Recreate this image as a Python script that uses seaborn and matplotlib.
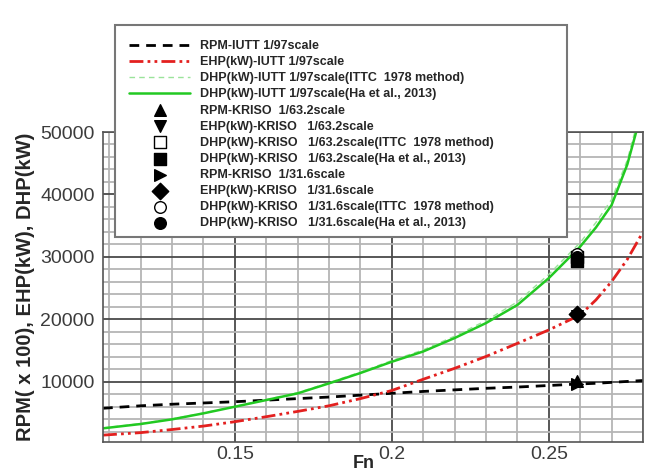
import numpy as np
import pandas as pd
import matplotlib
matplotlib.use("Agg")
import matplotlib.pyplot as plt
from matplotlib.patches import Rectangle
from matplotlib.ticker import MultipleLocator
import seaborn as sns

# ---------------- data ----------------
fn = [0.108, 0.12, 0.13, 0.14, 0.15, 0.16, 0.17, 0.18, 0.19, 0.20,
      0.21, 0.22, 0.23, 0.24, 0.25, 0.26, 0.265, 0.27, 0.275, 0.28]
rpm_iutt = [5750, 6150, 6400, 6600, 6800, 7050, 7300, 7550, 7850, 8150,
            8450, 8700, 8950, 9150, 9400, 9650, 9750, 9900, 10050, 10200]
ehp_iutt = [1450, 1850, 2350, 2900, 3600, 4400, 5250, 6150, 7300, 8600,
            10400, 12150, 14050, 16150, 18300, 20700, 23100, 26050, 29600, 34000]
dhp_ittc_iutt = [2600, 3300, 4050, 5000, 6050, 7150, 8250, 9850, 11550, 13400,
                 15100, 17300, 19800, 22800, 27200, 32300, 35500, 39200, 45500, 55000]
dhp_ha_iutt = [2540, 3230, 3980, 4940, 6000, 7070, 8140, 9740, 11400, 13200,
               14850, 17000, 19400, 22300, 26600, 31650, 34700, 38300, 44800, 54000]

fn_kriso = [0.259]
rpm_632 = [10100]
ehp_632 = [20500]
dhp_ittc_632 = [30000]
dhp_ha_632 = [29300]
rpm_316 = [9700]
ehp_316 = [20800]
dhp_ittc_316 = [30500]
dhp_ha_316 = [30000]

line_labels = ["RPM-IUTT 1/97scale",
               "EHP(kW)-IUTT 1/97scale",
               "DHP(kW)-IUTT 1/97scale(ITTC  1978 method)",
               "DHP(kW)-IUTT 1/97scale(Ha et al., 2013)"]
marker_labels = ["RPM-KRISO  1/63.2scale",
                 "EHP(kW)-KRISO   1/63.2scale",
                 "DHP(kW)-KRISO   1/63.2scale(ITTC  1978 method)",
                 "DHP(kW)-KRISO   1/63.2scale(Ha et al., 2013)",
                 "RPM-KRISO  1/31.6scale",
                 "EHP(kW)-KRISO   1/31.6scale",
                 "DHP(kW)-KRISO   1/31.6scale(ITTC  1978 method)",
                 "DHP(kW)-KRISO   1/31.6scale(Ha et al., 2013)"]
xticks = [0.15, 0.2, 0.25]
xtick_labels = ["0.15", "0.2", "0.25"]
yticks = [10000, 20000, 30000, 40000, 50000]

# ---------------- style ----------------
sns.set_style("white")
plt.rcParams["font.family"] = ["Liberation Sans", "DejaVu Sans"]

fig = plt.figure(figsize=(6.57, 4.73), dpi=100)
ax = fig.add_axes([103/657, 1-442/473, (643-103)/657, (442-132)/473])

df = pd.DataFrame({"fn": fn, "rpm": rpm_iutt, "ehp": ehp_iutt,
                   "dhp_ittc": dhp_ittc_iutt, "dhp_ha": dhp_ha_iutt})

sns.lineplot(data=df, x="fn", y="rpm", ax=ax, color="black", lw=2.0,
             linestyle=(0, (3.5, 2.5)), label=line_labels[0], legend=False)
sns.lineplot(data=df, x="fn", y="ehp", ax=ax, color="#e3201f", lw=2.0,
             linestyle=(0, (5, 1.5, 1, 1.5, 1, 1.5)), label=line_labels[1], legend=False)
sns.lineplot(data=df, x="fn", y="dhp_ittc", ax=ax, color="#9ae39a", lw=1.0,
             linestyle=(0, (4, 3)), label=line_labels[2], legend=False)
sns.lineplot(data=df, x="fn", y="dhp_ha", ax=ax, color="#22c922", lw=1.8,
             linestyle="-", label=line_labels[3], legend=False)

mk = dict(s=70, linewidth=1.0, edgecolor="black", zorder=5, legend=False)
sns.scatterplot(x=fn_kriso, y=rpm_632, ax=ax, marker="^", color="black", label=marker_labels[0], **mk)
sns.scatterplot(x=fn_kriso, y=ehp_632, ax=ax, marker="v", color="black", label=marker_labels[1], **mk)
sns.scatterplot(x=fn_kriso, y=dhp_ittc_632, ax=ax, marker="s", color="white", label=marker_labels[2], **mk)
sns.scatterplot(x=fn_kriso, y=dhp_ha_632, ax=ax, marker="s", color="black", label=marker_labels[3], **mk)
sns.scatterplot(x=fn_kriso, y=rpm_316, ax=ax, marker=">", color="black", label=marker_labels[4], **mk)
sns.scatterplot(x=fn_kriso, y=ehp_316, ax=ax, marker="D", color="black", label=marker_labels[5], **mk)
sns.scatterplot(x=fn_kriso, y=dhp_ittc_316, ax=ax, marker="o", color="white", label=marker_labels[6], **mk)
sns.scatterplot(x=fn_kriso, y=dhp_ha_316, ax=ax, marker="o", color="black", label=marker_labels[7], **mk)

ax.set_xlim(0.108, 0.28)
ax.set_ylim(350, 50000)

ax.set_xticks(xticks)
ax.set_xticklabels(xtick_labels)
ax.set_yticks(yticks)
ax.xaxis.set_minor_locator(MultipleLocator(0.01))
ax.yaxis.set_minor_locator(MultipleLocator(2000))

ax.grid(which="minor", color="#b5b5b5", lw=1.3)
ax.grid(which="major", color="#4a4a4a", lw=1.3)
ax.set_axisbelow(True)

ax.tick_params(axis="both", which="major", direction="in", length=7, width=1,
               labelsize=14, labelcolor="#3c3c3c", colors="#666666", pad=3)
ax.tick_params(axis="both", which="minor", direction="in", length=4, width=0.8, colors="#666666")
ax.tick_params(axis="y", pad=6)
for sp in ax.spines.values():
    sp.set_color("#555555")
    sp.set_linewidth(1.2)

ax.set_xlabel("Fn", fontsize=13, fontweight="bold")
ax.xaxis.set_label_coords((364 - 103) / 540, -0.043)
ax.set_ylabel("RPM( x 100), EHP(kW), DHP(kW)", fontsize=14.5, fontweight="bold", labelpad=4)

# ---------------- legend ----------------
handles, labels = ax.get_legend_handles_labels()
if ax.get_legend() is not None:
    ax.get_legend().remove()

box = Rectangle((115/657, 1-237/473), (567-115)/657, (237-25)/473,
                transform=fig.transFigure, facecolor="white", edgecolor="#777777",
                lw=1.5, zorder=3)
fig.patches.append(box)

leg = fig.legend(handles, labels, loc="upper left",
                 bbox_to_anchor=(119/657, 1-30/473), bbox_transform=fig.transFigure,
                 frameon=False, prop={"weight": "bold", "size": 9},
                 handlelength=4.9, handletextpad=0.8, labelspacing=0.33,
                 borderpad=0.3, scatterpoints=1)
leg.set_zorder(6)

fig.savefig("out.png", dpi=100)
